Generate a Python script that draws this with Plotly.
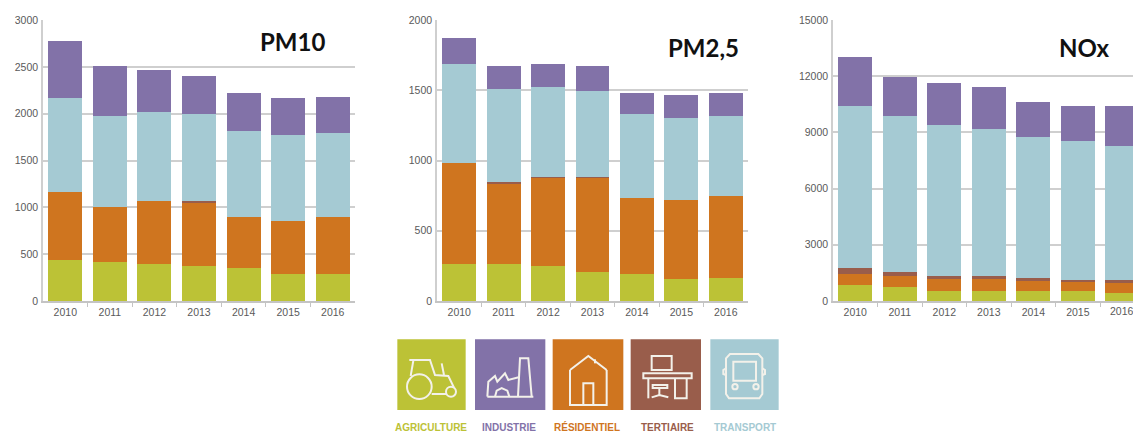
import plotly.graph_objects as go

W, H = 1133, 433
years = [2010, 2011, 2012, 2013, 2014, 2015, 2016]
sectors = ["Agriculture", "Résidentiel", "Tertiaire", "Transport", "Industrie"]
colors = ["#bcc236", "#cf751f", "#995d4b", "#a5cad3", "#8272a8"]

pm10_agriculture = [435, 413, 392, 370, 353, 289, 289]
pm10_residentiel = [730, 588, 673, 677, 545, 570, 609]
pm10_tertiaire = [0, 0, 0, 18, 0, 0, 0]
pm10_transport = [998, 976, 955, 934, 919, 915, 898]
pm10_industrie = [609, 528, 446, 406, 406, 389, 384]

pm25_agriculture = [261, 261, 249, 209, 195, 154, 166]
pm25_residentiel = [720, 577, 632, 672, 541, 568, 584]
pm25_tertiaire = [0, 7, 3, 3, 0, 0, 0]
pm25_transport = [705, 665, 638, 612, 596, 584, 568]
pm25_industrie = [188, 162, 164, 176, 150, 162, 164]

nox_agriculture = [837, 730, 534, 534, 534, 534, 427]
nox_residentiel = [623, 624, 624, 624, 517, 517, 517]
nox_tertiaire = [303, 195, 196, 196, 196, 89, 196]
nox_transport = [8637, 8336, 8032, 7818, 7533, 7427, 7124]
nox_industrie = [2619, 2048, 2226, 2244, 1817, 1833, 2136]

pm10_ticks = [0, 500, 1000, 1500, 2000, 2500, 3000]
pm25_ticks = [0, 500, 1000, 1500, 2000]
nox_ticks = [0, 3000, 6000, 9000, 12000, 15000]

legend_labels = ["AGRICULTURE", "INDUSTRIE", "RÉSIDENTIEL", "TERTIAIRE", "TRANSPORT"]
legend_colors = ["#bcc236", "#8272a8", "#cf751f", "#995d4b", "#a5cad3"]

panels = [
    ("PM10", [pm10_agriculture, pm10_residentiel, pm10_tertiaire, pm10_transport, pm10_industrie],
     pm10_ticks, 43, 355, 2016.5, 292.5, 41),
    ("PM2,5", [pm25_agriculture, pm25_residentiel, pm25_tertiaire, pm25_transport, pm25_industrie],
     pm25_ticks, 437, 748, 2016.5, 703.5, 48),
    ("NOx", [nox_agriculture, nox_residentiel, nox_tertiaire, nox_transport, nox_industrie],
     nox_ticks, 833, 1133, 2016.24, 1084, 48),
]

fig = go.Figure()
layout = dict(
    width=W, height=H, margin=dict(l=0, r=0, t=0, b=0, autoexpand=False), barmode="stack", bargap=0.235,
    showlegend=False, paper_bgcolor="white", plot_bgcolor="white",
    font=dict(family="Liberation Sans", size=10.5, color="#5a5a5a"),
)
annotations, shapes = [], []

for i, (title, series, yticks, x0, x1, xmax, tx, ty) in enumerate(panels, start=1):
    suffix = "" if i == 1 else str(i)
    for name, vals, col in zip(sectors, series, colors):
        fig.add_trace(go.Bar(x=years, y=vals, name=name, marker=dict(color=col, line=dict(width=0)),
                             xaxis="x" + suffix, yaxis="y" + suffix))
    layout["xaxis" + suffix] = dict(
        domain=[x0 / W, x1 / W], range=[2009.5, xmax], anchor="y" + suffix,
        tickmode="array", tickvals=years, ticktext=[str(y) for y in years],
        ticks="", showgrid=False, showline=True, linecolor="#c4c4c4", linewidth=1.5,
        zeroline=False, ticklabelstandoff=1, tickfont=dict(size=10.5, color="#5a5a5a"),
        minor=dict(tickmode="array", tickvals=[y + 0.5 for y in years[:-1]],
                   ticks="outside", ticklen=4, tickcolor="#c4c4c4", tickwidth=1, showgrid=False),
    )
    layout["yaxis" + suffix] = dict(
        domain=[1 - 301 / H, 1 - 20 / H], range=[0, yticks[-1]], anchor="x" + suffix,
        tickmode="array", tickvals=yticks, ticktext=[str(t) for t in yticks],
        ticks="", showgrid=True, gridcolor="#cfcfcf", gridwidth=1.5,
        showline=True, linecolor="#cfcfcf", linewidth=1.5, zeroline=False,
        tickfont=dict(size=10.5, color="#5a5a5a"), ticklabelstandoff=1,
    )
    annotations.append(dict(text=f"<b>{title}</b>", x=tx / W, y=1 - ty / H, xref="paper", yref="paper",
                            showarrow=False, xanchor="center", yanchor="middle",
                            font=dict(family="Lato", size=24, color="#111111")))

# The last NOx tick label runs off the page; plotly drops it, so it is placed as text and cut by the window.
annotations.append(dict(text=str(years[-1]), x=years[-1], y=1 - 311 / H, xref="x3", yref="paper",
                        showarrow=False, xanchor="center", yanchor="middle",
                        font=dict(family="Liberation Sans", size=10.5, color="#5a5a5a")))


def X(z):
    return (380 + z / 3) / W


def Y(z):
    return 1 - (320 + z / 3) / H


def square(a, b, col):
    shapes.append(dict(type="rect", xref="paper", yref="paper", x0=X(a), x1=X(b), y0=Y(58), y1=Y(270),
                       fillcolor=col, line=dict(width=0), layer="above"))


def line(*pts, close=False):
    d = "M" + " L".join(f"{X(x):.5f},{Y(y):.5f}" for x, y in pts) + (" Z" if close else "")
    shapes.append(dict(type="path", path=d, xref="paper", yref="paper",
                       line=dict(color="#f3f1ea", width=2), layer="above"))


def circle(cx, cy, r):
    shapes.append(dict(type="circle", xref="paper", yref="paper", x0=X(cx - r), x1=X(cx + r),
                       y0=Y(cy + r), y1=Y(cy - r), line=dict(color="#f3f1ea", width=2), layer="above"))


for (a, b), col in zip([(52, 257), (285, 496), (518, 730), (752, 963), (991, 1196)], legend_colors):
    square(a, b, col)

# tractor
circle(118, 200, 37)
circle(213, 215, 15)
line((88, 120), (150, 120), (165, 165), (205, 168), (222, 203))
line((100, 122), (92, 168))
line((185, 130), (192, 165))
line((155, 222), (198, 222))
# factory
line((322, 230), (325, 185), (345, 168), (352, 185), (375, 160), (385, 180), (416, 172))
line((322, 230), (460, 230))
line((414, 230), (420, 115), (445, 115), (455, 230))
line((345, 230), (350, 212), (365, 204), (382, 212), (388, 230))
# house
line((570, 150), (625, 108), (680, 150))
line((570, 150), (570, 255), (680, 255), (680, 150))
line((610, 255), (610, 190), (640, 190), (640, 255))
line((645, 118), (645, 130))
# desk
line((815, 108), (875, 108), (875, 150), (815, 150), close=True)
line((790, 160), (935, 160), (935, 175), (790, 175), close=True)
line((805, 175), (805, 235))
line((885, 175), (885, 235), (920, 235), (920, 175))
line((818, 195), (862, 195), (862, 204), (818, 204), close=True)
line((838, 204), (838, 226))
line((815, 232), (838, 225), (865, 232))
# bus
line((1050, 102), (1135, 102), (1147, 115), (1147, 222), (1138, 235),
     (1047, 235), (1038, 222), (1038, 115), close=True)
line((1060, 125), (1128, 125), (1128, 182), (1060, 182), close=True)
circle(1065, 200, 8)
circle(1128, 200, 8)
line((1038, 145), (1030, 150), (1030, 162), (1038, 165))
line((1147, 145), (1155, 150), (1155, 162), (1147, 165))

for label, col, cx in zip(legend_labels, legend_colors, [431, 509, 587, 667, 745]):
    annotations.append(dict(text=f"<b>{label}</b>", x=cx / W, y=1 - 427 / H, xref="paper", yref="paper",
                            showarrow=False, xanchor="center", yanchor="middle",
                            font=dict(family="Liberation Sans", size=10, color=col)))

layout["annotations"] = annotations
layout["shapes"] = shapes
fig.update_layout(**layout)
fig.write_html("out.html", config={"displayModeBar": False},
               post_script="document.documentElement.style.margin='0';document.body.style.margin='0';")
